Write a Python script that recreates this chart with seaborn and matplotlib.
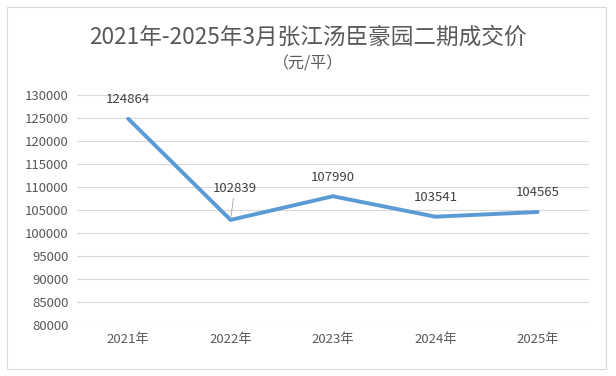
import pandas as pd
import seaborn as sns
import matplotlib.pyplot as plt
from matplotlib.patches import Rectangle

years = ["2021年", "2022年", "2023年", "2024年", "2025年"]
prices = [124864, 102839, 107990, 103541, 104565]

df = pd.DataFrame({"year": years, "price": prices})

sns.set_theme(style="white")
plt.rcParams['font.family'] = ['Noto Sans CJK SC', 'DejaVu Sans']

fig = plt.figure(figsize=(6.16, 3.76), dpi=100)
ax = fig.add_axes([0.125, 0.136, 0.831, 0.611])

sns.lineplot(data=df, x="year", y="price", ax=ax, color="#5B9BD5",
             linewidth=2.8, sort=False)

ax.set_ylim(80000, 130000)
ax.set_yticks(range(80000, 130001, 5000))
ax.set_xlim(-0.5, len(years) - 0.5)
ax.yaxis.grid(True, color="#D9D9D9", linewidth=0.8)
for s in ax.spines.values():
    s.set_visible(False)
ax.tick_params(axis="both", labelsize=9.5, colors="#595959", length=0, pad=6)
ax.set_xlabel("")
ax.set_ylabel("")

for i, v in enumerate(prices):
    if i == 1:
        ax.annotate(str(v), xy=(i, v), xytext=(3, 18), textcoords="offset points",
                    ha="center", va="bottom", fontsize=9.5, color="#404040",
                    arrowprops=dict(arrowstyle="-", color="#A6A6A6", lw=0.6,
                                    shrinkA=0, shrinkB=2))
    else:
        ax.annotate(str(v), xy=(i, v), xytext=(0, 9), textcoords="offset points",
                    ha="center", va="bottom", fontsize=9.5, color="#404040")

fig.text(0.5, 0.9, "2021年-2025年3月张江汤臣豪园二期成交价", ha="center",
         va="center", fontsize=16.3, color="#595959")
fig.text(0.5, 0.83, "（元/平）", ha="center", va="center", fontsize=11.5,
         color="#595959")

fig.patches.append(Rectangle((0.011, 0.019), 0.973, 0.962, transform=fig.transFigure,
                             fill=False, edgecolor="#D9D9D9", linewidth=0.8))

fig.savefig("out.png", dpi=100)
